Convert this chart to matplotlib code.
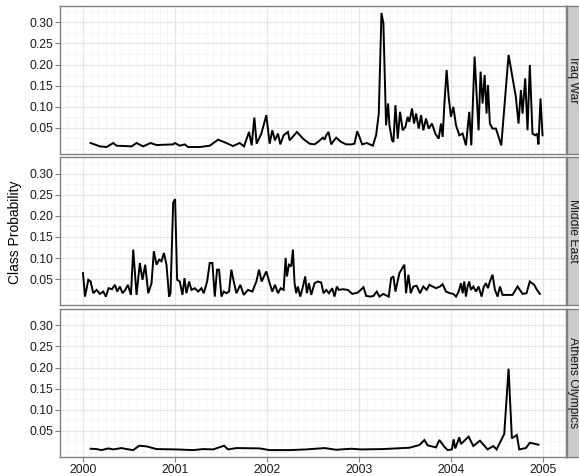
import numpy as np
import matplotlib
matplotlib.use("Agg")
import matplotlib.pyplot as plt
from matplotlib.ticker import MultipleLocator, FixedLocator

plt.rcParams['font.family'] = ['Liberation Sans', 'DejaVu Sans']

# Series: decimal year and class probability for each topic
iraq_year = [2000.083, 2000.184, 2000.257, 2000.329, 2000.365, 2000.528, 2000.582, 2000.654, 2000.734,
             2000.799, 2000.98, 2000.998, 2001.052, 2001.106, 2001.142, 2001.269, 2001.378, 2001.468,
             2001.558, 2001.63, 2001.703, 2001.75, 2001.804, 2001.833, 2001.862, 2001.887, 2001.938,
             2001.992, 2002.028, 2002.057, 2002.086, 2002.119, 2002.144, 2002.18, 2002.227,
             2002.245, 2002.325, 2002.39, 2002.462, 2002.516, 2002.552, 2002.607, 2002.625, 2002.643,
             2002.668, 2002.697, 2002.722, 2002.751, 2002.805, 2002.86, 2002.914, 2002.95, 2002.979,
             2003.004, 2003.033, 2003.084, 2003.149, 2003.185, 2003.214, 2003.243, 2003.264, 2003.293,
             2003.315, 2003.33, 2003.358, 2003.373, 2003.395, 2003.42, 2003.445, 2003.474, 2003.503,
             2003.528, 2003.546, 2003.575, 2003.597, 2003.619, 2003.648, 2003.673, 2003.698, 2003.727,
             2003.756, 2003.792, 2003.828, 2003.865, 2003.89, 2003.908, 2003.926, 2003.951, 2003.973,
             2003.998, 2004.024, 2004.053, 2004.089, 2004.125, 2004.161, 2004.197, 2004.219, 2004.255,
             2004.298, 2004.32, 2004.342, 2004.364, 2004.385, 2004.4, 2004.421, 2004.45, 2004.487,
             2004.516, 2004.545, 2004.624, 2004.703, 2004.732, 2004.758, 2004.776, 2004.805, 2004.83,
             2004.855, 2004.884, 2004.913, 2004.935, 2004.949, 2004.971, 2004.993]
iraq_prob = [0.0143, 0.0063, 0.0048, 0.0143, 0.0079, 0.0063, 0.0143, 0.0063, 0.0143,
             0.0095, 0.011, 0.0143, 0.0079, 0.011, 0.0048, 0.0048, 0.0079, 0.0222,
             0.0143, 0.0071, 0.0143, 0.0063, 0.0405, 0.0087, 0.0746, 0.0127, 0.0365,
             0.0802, 0.0127, 0.0444, 0.0206, 0.0365, 0.011, 0.0325, 0.0405,
             0.0206, 0.0405, 0.0246, 0.0127, 0.011, 0.0167, 0.027, 0.0222, 0.0325,
             0.0405, 0.011, 0.019, 0.027, 0.0167, 0.011, 0.011, 0.0127, 0.0421,
             0.0286, 0.011, 0.0143, 0.0079, 0.0325, 0.0841, 0.3222, 0.2984, 0.0563,
             0.108, 0.0563, 0.0206, 0.0167, 0.104, 0.0246, 0.0881, 0.0444, 0.0524,
             0.0762, 0.0643, 0.096, 0.0603, 0.0841, 0.0484, 0.0802, 0.0444, 0.0722,
             0.0484, 0.0603, 0.0365, 0.0246, 0.0603, 0.0286, 0.104, 0.1873, 0.1238,
             0.0762, 0.1, 0.0563, 0.0325, 0.0365, 0.0087, 0.0881, 0.0087, 0.219,
             0.0444, 0.1833, 0.108, 0.1754, 0.0841, 0.1516, 0.0603, 0.0484, 0.0484,
             0.0286, 0.0087, 0.223, 0.1238, 0.0603, 0.1397, 0.0841, 0.1675, 0.0444,
             0.1992, 0.0365, 0.0325, 0.0365, 0.011, 0.1198, 0.0325]

mideast_year = [2000.0, 2000.022, 2000.058, 2000.083, 2000.112, 2000.148, 2000.184, 2000.221, 2000.249,
                2000.278, 2000.315, 2000.347, 2000.372, 2000.401, 2000.43, 2000.459, 2000.488, 2000.521,
                2000.546, 2000.582, 2000.618, 2000.647, 2000.676, 2000.709, 2000.745, 2000.77, 2000.799,
                2000.828, 2000.853, 2000.879, 2000.907, 2000.936, 2000.951, 2000.98, 2001.001, 2001.023,
                2001.052, 2001.081, 2001.103, 2001.124, 2001.153, 2001.179, 2001.215, 2001.251, 2001.287,
                2001.312, 2001.349, 2001.377, 2001.406, 2001.432, 2001.457, 2001.479, 2001.504, 2001.529,
                2001.558, 2001.587, 2001.612, 2001.638, 2001.667, 2001.71, 2001.746, 2001.793, 2001.84,
                2001.884, 2001.913, 2001.941, 2001.992, 2002.028, 2002.057, 2002.086, 2002.119, 2002.148,
                2002.18, 2002.202, 2002.216, 2002.238, 2002.263, 2002.281, 2002.299, 2002.317, 2002.335,
                2002.361, 2002.39, 2002.415, 2002.433, 2002.455, 2002.48, 2002.516, 2002.552, 2002.588,
                2002.614, 2002.643, 2002.672, 2002.708, 2002.733, 2002.758, 2002.78, 2002.823, 2002.878,
                2002.925, 2002.986, 2003.048, 2003.077, 2003.12, 2003.156, 2003.192, 2003.221, 2003.264,
                2003.322, 2003.348, 2003.373, 2003.395, 2003.438, 2003.492, 2003.51, 2003.536, 2003.561,
                2003.59, 2003.626, 2003.662, 2003.698, 2003.734, 2003.763, 2003.8, 2003.836, 2003.879,
                2003.908, 2003.944, 2003.988, 2004.024, 2004.053, 2004.082, 2004.107, 2004.125, 2004.143,
                2004.161, 2004.179, 2004.197, 2004.215, 2004.241, 2004.27, 2004.298, 2004.331, 2004.353,
                2004.378, 2004.4, 2004.421, 2004.45, 2004.476, 2004.505, 2004.53, 2004.559, 2004.613,
                2004.667, 2004.722, 2004.776, 2004.819, 2004.855, 2004.903, 2004.928, 2004.964]
mideast_prob = [0.0643, 0.0086, 0.0484, 0.0444, 0.0166, 0.0245, 0.015, 0.0205, 0.0086,
                0.0285, 0.0261, 0.0365, 0.0205, 0.0325, 0.0166, 0.0245, 0.0365, 0.0126,
                0.12, 0.0126, 0.0882, 0.0484, 0.0842, 0.0166, 0.0404, 0.1161, 0.0842,
                0.0962, 0.0922, 0.1121, 0.0842, 0.0086, 0.0166, 0.2315, 0.2395, 0.0484,
                0.0444, 0.0126, 0.0524, 0.0166, 0.0444, 0.0245, 0.0285, 0.0205, 0.0285,
                0.0166, 0.0444, 0.0882, 0.0882, 0.0086, 0.0723, 0.0723, 0.0086, 0.0205,
                0.0166, 0.0205, 0.0723, 0.0444, 0.0166, 0.0365, 0.0126, 0.0245, 0.0205,
                0.0444, 0.0723, 0.0444, 0.0683, 0.0404, 0.0205, 0.0365, 0.0166, 0.0285,
                0.0245, 0.1002, 0.0564, 0.0842, 0.0803, 0.12, 0.0404, 0.0166, 0.0325,
                0.0086, 0.0325, 0.0564, 0.0166, 0.0404, 0.0126, 0.0404, 0.0444, 0.042,
                0.0166, 0.0245, 0.0166, 0.0285, 0.0086, 0.0325, 0.0245, 0.0261, 0.0245,
                0.015, 0.0182, 0.0309, 0.0102, 0.0086, 0.0102, 0.0205, 0.0086, 0.015,
                0.0086, 0.0524, 0.0564, 0.0205, 0.0643, 0.0842, 0.0166, 0.0604, 0.0166,
                0.0325, 0.0341, 0.0166, 0.0325, 0.0245, 0.0365, 0.0325, 0.0285, 0.0325,
                0.038, 0.0205, 0.0166, 0.015, 0.0086, 0.0205, 0.0404, 0.0166, 0.0444,
                0.0086, 0.0325, 0.0444, 0.0245, 0.0325, 0.0205, 0.0325, 0.0086, 0.0309,
                0.0404, 0.0285, 0.0444, 0.0604, 0.0245, 0.0086, 0.0325, 0.0126, 0.0126,
                0.0126, 0.0325, 0.015, 0.0166, 0.0444, 0.0365, 0.0261, 0.015]

athens_year = [2000.083, 2000.148, 2000.202, 2000.275, 2000.329, 2000.419, 2000.474, 2000.546, 2000.611,
               2000.691, 2000.799, 2001.016, 2001.197, 2001.305, 2001.414, 2001.533, 2001.576, 2001.667,
               2001.92, 2002.028, 2002.245, 2002.426, 2002.625, 2002.751, 2002.914, 2003.022, 2003.257,
               2003.547, 2003.655, 2003.709, 2003.745, 2003.836, 2003.872, 2003.926, 2003.962, 2004.009,
               2004.027, 2004.045, 2004.089, 2004.107, 2004.19, 2004.241, 2004.313, 2004.396, 2004.458,
               2004.494, 2004.577, 2004.624, 2004.66, 2004.714, 2004.74, 2004.812, 2004.855, 2004.949]
athens_prob = [0.0078, 0.007, 0.0046, 0.0086, 0.0062, 0.0094, 0.007, 0.0046, 0.015,
               0.0134, 0.007, 0.0062, 0.0046, 0.007, 0.0062, 0.015, 0.0062, 0.0094,
               0.0086, 0.0046, 0.0046, 0.0062, 0.0094, 0.0054, 0.0078, 0.0062, 0.007,
               0.0102, 0.0166, 0.0285, 0.0158, 0.011, 0.0285, 0.0126, 0.0046, 0.0062,
               0.0301, 0.0086, 0.0349, 0.019, 0.0365, 0.0142, 0.0269, 0.0062, 0.0142,
               0.0062, 0.0428, 0.1973, 0.0325, 0.0404, 0.0062, 0.0094, 0.0221, 0.0174]

topics = ["Iraq War", "Middle East", "Athens Olympics"]
series = [(iraq_year, iraq_prob), (mideast_year, mideast_prob), (athens_year, athens_prob)]
year_ticks = [2000, 2001, 2002, 2003, 2004, 2005]
prob_ticks = [0.05, 0.10, 0.15, 0.20, 0.25, 0.30]

W, H = 579, 476
fig = plt.figure(figsize=(W / 100, H / 100), dpi=100)

# panel geometry in pixels
left, right = 60, 565.5
panel_h = 147.5
tops = [6.3, 157.5, 309.3]

all_prob = np.concatenate([iraq_prob, mideast_prob, athens_prob])
lo, hi = all_prob.min(), all_prob.max()
pad_y = (hi - lo) * 0.05
all_year = np.concatenate([iraq_year, mideast_year, athens_year])
x0, x1 = all_year.min(), all_year.max()
pad_x = (x1 - x0) * 0.05

border = '#7F7F7F'
for i, (topic, (yr, pr)) in enumerate(zip(topics, series)):
    top = tops[i]
    ax = fig.add_axes([left / W, 1 - (top + panel_h) / H, (right - left) / W, panel_h / H])
    ax.plot(yr, pr, color='black', lw=1.4, solid_joinstyle='miter')
    ax.set_xlim(x0 - pad_x, x1 + pad_x)
    ax.set_ylim(lo - pad_y, hi + pad_y)

    ax.xaxis.set_major_locator(FixedLocator(year_ticks))
    ax.xaxis.set_minor_locator(MultipleLocator(1 / 12))
    ax.yaxis.set_major_locator(FixedLocator(prob_ticks))
    ax.yaxis.set_minor_locator(FixedLocator(np.arange(0.0, 0.35, 0.025)))
    ax.grid(which='minor', color='#F3F3F3', lw=0.6)
    ax.grid(which='major', color='#E5E5E5', lw=0.9)
    ax.set_axisbelow(True)

    for s in ax.spines.values():
        s.set_color(border)
        s.set_linewidth(1.0)
    ax.tick_params(which='minor', length=0)
    ax.tick_params(which='major', length=3.5, width=0.8, color=border,
                   labelsize=8.7, labelcolor='#1A1A1A', pad=1.5)
    ax.set_yticklabels([f"{t:.2f}" for t in prob_ticks])
    if i < 2:
        ax.tick_params(axis='x', length=0, labelbottom=False)
    else:
        ax.set_xticklabels([str(t) for t in year_ticks])

    # facet strip on the right
    sx = fig.add_axes([566.5 / W, 1 - (top + panel_h) / H, 14 / W, panel_h / H])
    sx.set_facecolor('#CCCCCC')
    sx.set_xticks([])
    sx.set_yticks([])
    for s in sx.spines.values():
        s.set_color(border)
        s.set_linewidth(1.0)
    sx.text(0.45, 0.5, topic, rotation=-90, ha='center', va='center',
            fontsize=8.7, color='#1A1A1A', transform=sx.transAxes)

fig.text(15 / W, 1 - 232 / H, "Class Probability", rotation=90,
         ha='center', va='center', fontsize=10, color='black')

fig.savefig("out.png", dpi=100)
